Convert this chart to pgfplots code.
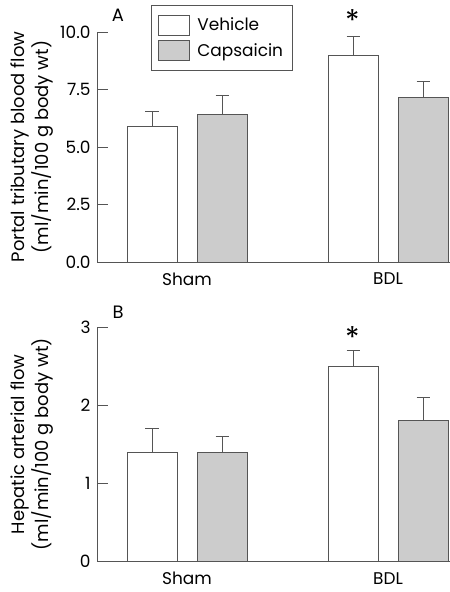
\documentclass[border=0pt]{standalone}
\usepackage{fontspec}
\setmainfont{Poppins}
\usepackage{pgfplots}
\pgfplotsset{compat=1.18}
\definecolor{lgray}{RGB}{204,204,204}
\definecolor{dgray}{RGB}{85,85,85}
\newcommand{\fs}{\fontsize{17}{24}\selectfont}
\newcommand{\fl}{\fontsize{18}{24}\selectfont}
\pgfplotsset{
  panel/.style={
    scale only axis, width=353bp,
    xmin=0, xmax=353, ymin=0,
    axis x line*=bottom, axis y line*=left,
    axis line style={dgray, line width=0.9bp},
    xtick={90,291}, xticklabels={Sham,BDL},
    x tick style={draw=none},
    tick align=inside, major tick length=11bp,
    y tick style={dgray, line width=0.9bp},
    tick label style={font=\fs},
    /pgf/number format/assume math mode=true,
    xticklabel style={yshift=-7bp},
    yticklabel style={xshift=-3bp},
    ylabel style={font=\fl, align=center, at={(axis description cs:-0.184,0.5)}, anchor=center, inner sep=0pt},
    clip=false,
    bar width=50,
    every axis plot/.append style={ybar, bar shift=0pt, draw=dgray, line width=0.9bp},
    error bars/error bar style={dgray, line width=0.9bp},
    error bars/error mark options={rotate=90, mark size=6.5bp, line width=0.9bp, dgray},
  }
}
\begin{document}
\begin{tikzpicture}
\path[use as bounding box] (0,0) rectangle (450bp,592bp);
% Panel A
\begin{axis}[panel, at={(97bp,330bp)}, anchor=south west, height=230bp,
  ymax=10, ytick={0,2.5,5,7.5,10},
  yticklabel style={/pgf/number format/.cd, fixed, fixed zerofill, precision=1},
  ylabel={Portal tributary blood flow\\(ml/min/100 g body wt)},
  legend style={at={(axis cs:54,11.17)}, anchor=north west, draw=dgray, line width=0.9bp, font=\fs,
    inner xsep=7bp, inner ysep=9bp, row sep=5bp, column sep=5bp,
    cells={anchor=west, text height=12bp, text depth=3bp, inner sep=3bp}},
  legend image code/.code={\draw[#1, line width=0.9bp] (0bp,-10bp) rectangle (31bp,10bp);},
]
\addplot[fill=white, error bars/.cd, y dir=plus, y explicit] coordinates {(55,5.9) +- (0,0.65) (256,9.0) +- (0,0.8)};
\addlegendentry{Vehicle}
\addplot[fill=lgray, error bars/.cd, y dir=plus, y explicit] coordinates {(125,6.4) +- (0,0.85) (326,7.15) +- (0,0.7)};
\addlegendentry{Capsaicin}
\node[font=\fontsize{18}{18}\selectfont] at (axis cs:21,10.74) {A};
\node[font=\fontsize{30}{30}\selectfont, inner sep=0pt] at (axis cs:256,10.5) {*};
\end{axis}
% Panel B
\begin{axis}[panel, at={(97bp,30.3bp)}, anchor=south west, height=234.7bp,
  ymax=3, ytick={0,1,2,3},
  ylabel={Hepatic arterial flow\\(ml/min/100 g body wt)},
]
\addplot[fill=white, error bars/.cd, y dir=plus, y explicit] coordinates {(55,1.4) +- (0,0.3) (256,2.5) +- (0,0.2)};
\addplot[fill=lgray, error bars/.cd, y dir=plus, y explicit] coordinates {(125,1.4) +- (0,0.2) (326,1.8) +- (0,0.3)};
\node[font=\fontsize{18}{18}\selectfont] at (axis cs:21,3.19) {B};
\node[font=\fontsize{30}{30}\selectfont, inner sep=0pt] at (axis cs:256,2.87) {*};
\end{axis}
\end{tikzpicture}
\end{document}
